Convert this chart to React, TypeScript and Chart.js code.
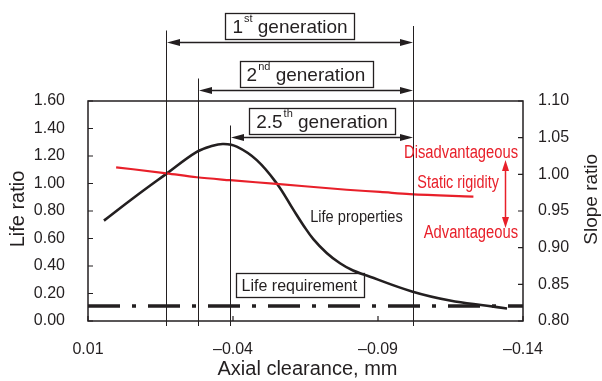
import React, { useEffect, useRef } from 'react';
import { Chart, registerables } from 'chart.js';

Chart.register(...registerables);

const FONT = '"Liberation Sans", Arial, Helvetica, sans-serif';
const INK = '#231f20';
const RED = '#e8202a';

// ---- data ----
const xTicks = [0.01, -0.04, -0.09, -0.14];
const lifeTicks = [0, 0.2, 0.4, 0.6, 0.8, 1.0, 1.2, 1.4, 1.6];
const slopeTicks = [0.8, 0.85, 0.9, 0.95, 1.0, 1.05, 1.1];

// Life properties (left axis, life ratio)
const lifeX = [0.0045, -0.006, -0.017, -0.0275, -0.033, -0.0367, -0.0413, -0.0482, -0.0551, -0.0608, -0.0643, -0.0677, -0.0723, -0.0769, -0.0814, -0.0861, -0.1017, -0.1148, -0.1276, -0.1345];
const lifeY = [0.73, 0.9, 1.07, 1.23, 1.275, 1.287, 1.268, 1.17, 1.0, 0.81, 0.695, 0.596, 0.495, 0.42, 0.367, 0.331, 0.215, 0.149, 0.111, 0.091];

// Static rigidity (right axis, slope ratio)
const rigidX = [0.0003, -0.0171, -0.0275, -0.039, -0.055, -0.0792, -0.0907, -0.101, -0.1229];
const rigidY = [1.0096, 1.0014, 0.996, 0.992, 0.987, 0.979, 0.976, 0.973, 0.9695];

// Life requirement (left axis)
const reqX = [0.01, -0.14];
const REQ = 0.11;

// Generations (axial clearance ranges)
const genNames = ['1', '2', '2.5'];
const genSups = ['st', 'nd', 'th'];
const genStart = [-0.017, -0.028, -0.039];
const GEN_END = -0.102;

// ---- layout (pixel offsets) ----
const ARROW_OFF = [-59, -11, 36];

function fmtX(v: number) {
  if (Math.abs(v) < 1e-9) return '0.00';
  return v > 0 ? v.toFixed(2) : '\u2013' + Math.abs(v).toFixed(2);
}

function drawText(ctx: CanvasRenderingContext2D, s: string, x: number, y: number, size: number, color: string, align: CanvasTextAlign = 'left', sx = 1) {
  ctx.save();
  ctx.font = `${size}px ${FONT}`;
  ctx.fillStyle = color;
  ctx.textBaseline = 'alphabetic';
  ctx.textAlign = align;
  ctx.translate(x, y);
  ctx.scale(sx, 1);
  ctx.fillText(s, 0, 0);
  ctx.restore();
}

function head(ctx: CanvasRenderingContext2D, tx: number, ty: number, dx: number, dy: number, len: number, hw: number) {
  const bx = tx - dx * len, by = ty - dy * len;
  ctx.beginPath();
  ctx.moveTo(tx, ty);
  ctx.lineTo(bx - dy * hw, by + dx * hw);
  ctx.lineTo(bx + dy * hw, by - dx * hw);
  ctx.closePath();
  ctx.fill();
}

const annot = {
  id: 'annot',
  afterDatasetsDraw(chart: any) {
    const { ctx, chartArea: a, scales } = chart;
    const xs = scales.x, ys = scales.y, y2 = scales.y2;
    ctx.save();

    // plot frame
    ctx.strokeStyle = INK;
    ctx.lineWidth = 1.5;
    ctx.strokeRect(a.left, a.top, a.right - a.left, a.bottom - a.top);

    // inward tick marks
    ctx.lineWidth = 1.2;
    ctx.beginPath();
    for (const v of lifeTicks) { const p = ys.getPixelForValue(v); ctx.moveTo(a.left, p); ctx.lineTo(a.left + 5, p); }
    for (const v of slopeTicks) { const p = y2.getPixelForValue(v); ctx.moveTo(a.right, p); ctx.lineTo(a.right - 5, p); }
    for (const v of xTicks) { const p = xs.getPixelForValue(v); ctx.moveTo(p, a.bottom); ctx.lineTo(p, a.bottom - 5); }
    ctx.stroke();

    // generation lines, arrows, boxes
    const xe = Math.round(xs.getPixelForValue(GEN_END)) + 0.5;
    ctx.strokeStyle = INK;
    ctx.fillStyle = INK;
    ctx.lineWidth = 1;
    ctx.beginPath();
    ctx.moveTo(xe, a.top + ARROW_OFF[0] - 16);
    ctx.lineTo(xe, a.bottom + 5);
    ctx.stroke();
    for (let i = 0; i < genStart.length; i++) {
      const xsPx = Math.round(xs.getPixelForValue(genStart[i])) + 0.5;
      const ay = Math.round(a.top + ARROW_OFF[i]) + 0.5;
      ctx.lineWidth = 1;
      ctx.beginPath();
      ctx.moveTo(xsPx, ay - 12);
      ctx.lineTo(xsPx, a.bottom + 5);
      ctx.stroke();
      ctx.lineWidth = 1.3;
      ctx.beginPath();
      ctx.moveTo(xsPx + 8, ay);
      ctx.lineTo(xe - 8, ay);
      ctx.stroke();
      head(ctx, xsPx + 0.5, ay, -1, 0, 13, 3.5);
      head(ctx, xe - 0.5, ay, 1, 0, 13, 3.5);

      // label
      ctx.font = `19px ${FONT}`;
      const wMain = ctx.measureText(genNames[i]).width;
      const wSpace = ctx.measureText(' ').width;
      const wGen = ctx.measureText('generation').width;
      ctx.font = `11px ${FONT}`;
      const wSup = ctx.measureText(genSups[i]).width;
      const total = wMain + 1 + wSup + wSpace + wGen;
      const cx = (xsPx + xe) / 2;
      const bw = total + 14;
      const bBottom = ay - 4;
      const bTop = bBottom - 26;
      ctx.lineWidth = 1.3;
      ctx.strokeRect(Math.round(cx - bw / 2) + 0.5, Math.round(bTop) + 0.5, Math.round(bw), 26);
      const base = bBottom - 6;
      let tx = cx - total / 2;
      drawText(ctx, genNames[i], tx, base, 19, INK);
      tx += wMain + 1;
      drawText(ctx, genSups[i], tx, base - 11, 11, INK);
      tx += wSup + wSpace;
      drawText(ctx, 'generation', tx, base, 19, INK);
    }

    // Life requirement box
    {
      const cx = xs.getPixelForValue(-0.0629);
      const cy = ys.getPixelForValue(0.262);
      ctx.font = `16px ${FONT}`;
      const w = ctx.measureText('Life requirement').width;
      const bw = w + 12;
      ctx.lineWidth = 1.3;
      ctx.strokeStyle = INK;
      ctx.strokeRect(Math.round(cx - bw / 2) + 0.5, Math.round(cy - 12) + 0.5, Math.round(bw), 24);
      drawText(ctx, 'Life requirement', cx, cy + 6.5, 16, INK, 'center');
    }

    // Life properties label
    drawText(ctx, 'Life properties', xs.getPixelForValue(-0.0666), ys.getPixelForValue(0.722), 17, INK, 'left', 0.86);

    // red annotations
    drawText(ctx, 'Disadvantageous', xs.getPixelForValue(-0.1383), y2.getPixelForValue(1.0227), 18, RED, 'right', 0.82);
    drawText(ctx, 'Static rigidity', xs.getPixelForValue(-0.1317), y2.getPixelForValue(0.981), 18, RED, 'right', 0.8);
    drawText(ctx, 'Advantageous', xs.getPixelForValue(-0.1383), y2.getPixelForValue(0.9128), 18, RED, 'right', 0.82);
    {
      const ax = Math.round(xs.getPixelForValue(-0.1338)) + 0.5;
      const t = y2.getPixelForValue(1.0195);
      const b = y2.getPixelForValue(0.9268);
      ctx.strokeStyle = RED;
      ctx.fillStyle = RED;
      ctx.lineWidth = 1.5;
      ctx.beginPath();
      ctx.moveTo(ax, t + 6);
      ctx.lineTo(ax, b - 6);
      ctx.stroke();
      head(ctx, ax, t, 0, -1, 11, 3.5);
      head(ctx, ax, b, 0, 1, 11, 3.5);
    }

    // axis titles
    ctx.save();
    ctx.translate(24, (a.top + a.bottom) / 2 - 2);
    ctx.rotate(-Math.PI / 2);
    drawText(ctx, 'Life ratio', 0, 0, 20, INK, 'center');
    ctx.restore();
    ctx.save();
    ctx.translate(597, y2.getPixelForValue(0.966));
    ctx.rotate(-Math.PI / 2);
    drawText(ctx, 'Slope ratio', 0, 0, 19, INK, 'center');
    ctx.restore();
    drawText(ctx, 'Axial clearance, mm', (a.left + a.right) / 2 + 2, a.bottom + 54, 20, INK, 'center');

    ctx.restore();
  },
};

export default function App() {
  const ref = useRef<HTMLCanvasElement>(null);
  useEffect(() => {
    const canvas = ref.current!;
    Chart.defaults.font.family = FONT;
    const chart = new Chart(canvas, {
      type: 'line',
      data: {
        datasets: [
          {
            label: 'Life requirement',
            data: reqX.map((x) => ({ x, y: REQ })),
            yAxisID: 'y',
            borderColor: INK,
            borderWidth: 3.5,
            borderDash: [32, 12, 4, 12],
            pointRadius: 0,
            tension: 0,
          },
          {
            label: 'Static rigidity',
            data: rigidX.map((x, i) => ({ x, y: rigidY[i] })),
            yAxisID: 'y2',
            borderColor: RED,
            borderWidth: 2.2,
            pointRadius: 0,
            cubicInterpolationMode: 'monotone',
          },
          {
            label: 'Life properties',
            data: lifeX.map((x, i) => ({ x, y: lifeY[i] })),
            yAxisID: 'y',
            borderColor: INK,
            borderWidth: 2.6,
            pointRadius: 0,
            tension: 0.4,
          },
        ],
      } as any,
      options: {
        animation: false,
        responsive: false,
        devicePixelRatio: 1,
        layout: { padding: { top: 101, left: 0, right: 0, bottom: 0 } },
        plugins: { legend: { display: false }, tooltip: { enabled: false } },
        scales: {
          x: {
            type: 'linear',
            reverse: true,
            min: -0.14,
            max: 0.01,
            afterFit: (s: any) => { s.height = 60; },
            afterBuildTicks: (s: any) => { s.ticks = xTicks.map((v) => ({ value: v })); },
            grid: { display: false },
            border: { display: false },
            ticks: { padding: 11, color: INK, font: { size: 16 }, maxRotation: 0, autoSkip: false, callback: (v: any) => fmtX(Number(v)) },
          },
          y: {
            position: 'left',
            min: 0,
            max: 1.6,
            afterFit: (s: any) => { s.width = 88; },
            afterBuildTicks: (s: any) => { s.ticks = lifeTicks.map((v) => ({ value: v })); },
            grid: { display: false },
            border: { display: false },
            ticks: { padding: 15, color: INK, font: { size: 16 }, autoSkip: false, callback: (v: any) => Number(v).toFixed(2) },
          },
          y2: {
            position: 'right',
            min: 0.8,
            max: 1.1,
            afterFit: (s: any) => { s.width = 79; },
            afterBuildTicks: (s: any) => { s.ticks = slopeTicks.map((v) => ({ value: v })); },
            grid: { display: false },
            border: { display: false },
            ticks: { padding: 7, color: INK, font: { size: 16 }, autoSkip: false, callback: (v: any) => Number(v).toFixed(2) },
          },
        } as any,
      },
      plugins: [annot],
    });
    return () => chart.destroy();
  }, []);
  return (
    <div style={{ position: 'fixed', left: 0, top: 0, width: 602, height: 381, background: '#fff' }}>
      <canvas ref={ref} width={602} height={381} style={{ display: 'block', width: 602, height: 381 }} />
    </div>
  );
}
